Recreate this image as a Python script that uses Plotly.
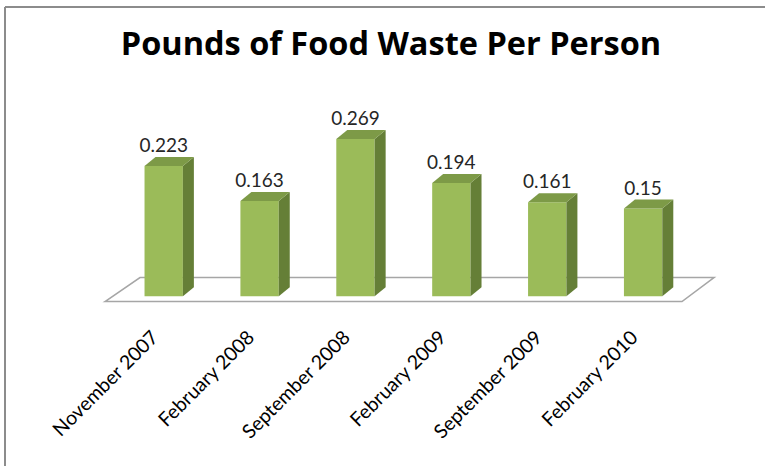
import plotly.graph_objects as go

# ---- data ----
categories = ["November 2007", "February 2008", "September 2008",
              "February 2009", "September 2009", "February 2010"]
values = [0.223, 0.163, 0.269, 0.194, 0.161, 0.15]
title_text = "Pounds of Food Waste Per Person"

# ---- style / geometry ----
W, H = 765, 466
ML, MR, MT, MB = 87, 26, 121, 161
XR = [-0.8, 6.0]
YR = [-0.015, 0.30]
pw, ph = W - ML - MR, H - MT - MB
px_x = pw / (XR[1] - XR[0])
px_y = ph / (YR[1] - YR[0])

bar_w = 0.4
dx = 11 / px_x   # depth offset (x)
dy = 9 / px_y    # depth offset (y)
tick_shift = 11 / px_x

FRONT = "#9BBB59"
SIDE = "#657F37"
TOP = "#7D9A47"
FONT = "Lato"

xs = list(range(len(categories)))

fig = go.Figure()

# front faces
fig.add_trace(go.Bar(x=xs, y=values, width=bar_w, marker=dict(color=FRONT, line=dict(width=0)),
                     hoverinfo="skip", showlegend=False))

# side faces and top faces
for x, v in zip(xs, values):
    r = x + bar_w / 2
    l = x - bar_w / 2
    fig.add_trace(go.Scatter(
        x=[r, r + dx, r + dx, r, r], y=[0, dy, v + dy, v, 0],
        fill="toself", fillcolor=SIDE, mode="lines", line=dict(width=0, color=SIDE),
        hoverinfo="skip", showlegend=False))
    fig.add_trace(go.Scatter(
        x=[l, l + dx, r + dx, r, l], y=[v, v + dy, v + dy, v, v],
        fill="toself", fillcolor=TOP, mode="lines", line=dict(width=0, color=TOP),
        hoverinfo="skip", showlegend=False))

# value labels
fig.add_trace(go.Scatter(
    x=xs, y=[v + dy for v in values], mode="text",
    text=[str(v) for v in values], textposition="top center",
    textfont=dict(family=FONT, size=19, color="#262626"),
    hoverinfo="skip", showlegend=False, cliponaxis=False))

# floor (parallelogram)
f_front = -5.3 / px_y
f_back = 18.7 / px_y
fx_fl = XR[0] + (105 - ML) / px_x
fx_bl = XR[0] + (140 - ML) / px_x
fx_fr = XR[0] + (682 - ML) / px_x
fx_br = XR[0] + (714 - ML) / px_x
floor_path = (f"M {fx_fl},{f_front} L {fx_bl},{f_back} L {fx_br},{f_back} "
              f"L {fx_fr},{f_front} Z")

shapes = [
    dict(type="path", path=floor_path, xref="x", yref="y", layer="below",
         fillcolor="white", line=dict(color="#A6A6A6", width=1.6)),
]

# outer border (left and top only visible)
def pxp(px):
    return (px - ML) / pw

def pyp(py):
    return 1 - (py - MT) / ph

shapes.append(dict(type="line", xref="paper", yref="paper",
                   x0=pxp(5), x1=pxp(5), y0=pyp(7), y1=pyp(480),
                   line=dict(color="#8C8C8C", width=2)))
shapes.append(dict(type="line", xref="paper", yref="paper",
                   x0=pxp(5), x1=pxp(780), y0=pyp(7), y1=pyp(7),
                   line=dict(color="#8C8C8C", width=2)))

fig.update_layout(
    width=W, height=H, autosize=False,
    margin=dict(l=ML, r=MR, t=MT, b=MB, pad=0),
    paper_bgcolor="white", plot_bgcolor="white",
    showlegend=False,
    shapes=shapes,
    title=dict(text=title_text, x=391 / W, xanchor="center", xref="container",
               y=1 - 44 / H, yanchor="middle", yref="container",
               font=dict(family="Open Sans", size=32.5, color="#000000", weight="bold")),
    xaxis=dict(range=XR, tickmode="array", tickvals=[x - tick_shift for x in xs],
               ticktext=categories,
               tickangle=-45, showgrid=False, zeroline=False, showline=False,
               ticks="", ticklabelstandoff=16,
               tickfont=dict(family=FONT, size=19.5, color="#000000"), fixedrange=True),
    yaxis=dict(range=YR, showgrid=False, zeroline=False, showline=False,
               showticklabels=False, ticks="", fixedrange=True),
)

fig.write_html("out.html", config={"displayModeBar": False},
               post_script=("document.body.style.margin='0';"
                            "document.body.style.overflow='hidden';"
                            "document.documentElement.style.overflow='hidden';"))
